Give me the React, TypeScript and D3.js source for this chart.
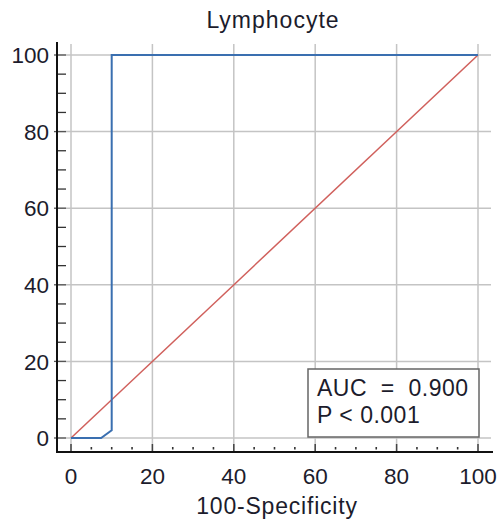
import React from "react";
import * as d3 from "d3";

const title = "Lymphocyte";
const xLabel = "100-Specificity";
const majorTicks = [0, 20, 40, 60, 80, 100];
const minorTicks = d3.range(0, 101, 5).filter((v) => v % 20 !== 0);
const rocFpr = [0, 7.4, 10, 10, 100];
const rocTpr = [0, 0, 2, 100, 100];
const diagX = [0, 100];
const diagY = [0, 100];
const legendLines = ["AUC  =  0.900", "P < 0.001"];

const W = 502;
const H = 522;
const FONT = "'Liberation Sans', Arial, sans-serif";
const TEXT = "#1c1c2c";

export default function App() {
  const x = d3.scaleLinear().domain([0, 100]).range([71, 478]);
  const y = d3.scaleLinear().domain([0, 100]).range([438, 55]);
  const axX = 57;
  const axY = 452;
  const top = 42;
  const right = 491;

  const roc = d3
    .line<number>()
    .x((_, i) => x(rocFpr[i]))
    .y((_, i) => y(rocTpr[i]))(rocFpr);
  const diag = d3
    .line<number>()
    .x((_, i) => x(diagX[i]))
    .y((_, i) => y(diagY[i]))(diagX);

  return (
    <svg
      width={W}
      height={H}
      style={{ position: "absolute", left: 0, top: 0, background: "#fff" }}
      fontFamily={FONT}
    >
      <rect width={W} height={H} fill="#fff" />
      {/* grid */}
      {majorTicks.map((t) => (
        <line key={"gx" + t} x1={x(t)} x2={x(t)} y1={top + 2} y2={axY} stroke="#c4c4c4" strokeWidth={1.5} />
      ))}
      {majorTicks.map((t) => (
        <line key={"gy" + t} x1={axX} x2={right} y1={y(t)} y2={y(t)} stroke="#c4c4c4" strokeWidth={1.5} />
      ))}
      {/* minor ticks */}
      {minorTicks.map((t) => (
        <line key={"my" + t} x1={axX} x2={axX + 9} y1={y(t)} y2={y(t)} stroke="#333" strokeWidth={1.3} />
      ))}
      {minorTicks.map((t) => (
        <line key={"mx" + t} x1={x(t)} x2={x(t)} y1={axY - 5} y2={axY - 2.5} stroke="#333" strokeWidth={1.6} />
      ))}
      {majorTicks.map((t) => (
        <line key={"Mx" + t} x1={x(t)} x2={x(t)} y1={axY - 8} y2={axY} stroke="#444" strokeWidth={1.5} />
      ))}
      {majorTicks.map((t) => (
        <line key={"My" + t} x1={axX - 3} x2={axX + 9} y1={y(t)} y2={y(t)} stroke="#555" strokeWidth={1.3} />
      ))}
      {/* axes */}
      <line x1={axX} x2={axX} y1={top} y2={axY + 1} stroke="#111" strokeWidth={2} />
      <line x1={axX - 1} x2={493} y1={axY} y2={axY} stroke="#111" strokeWidth={2} />
      {/* data */}
      <path d={diag ?? ""} fill="none" stroke="#d0605c" strokeWidth={1.5} />
      <path d={roc ?? ""} fill="none" stroke="#3a6fb0" strokeWidth={2} />
      {/* labels */}
      {majorTicks.map((t) => (
        <text key={"ly" + t} x={49} y={y(t)} dy="0.36em" textAnchor="end" fontSize={22.5} fill={TEXT}>
          {t}
        </text>
      ))}
      {majorTicks.map((t) => (
        <text key={"lx" + t} x={x(t)} y={484} textAnchor="middle" fontSize={22.5} fill={TEXT}>
          {t}
        </text>
      ))}
      <text x={273} y={28} textAnchor="middle" fontSize={23} letterSpacing={1} fill={TEXT}>
        {title}
      </text>
      <text x={277} y={514} textAnchor="middle" fontSize={23} letterSpacing={0.8} fill={TEXT}>
        {xLabel}
      </text>
      {/* legend */}
      <rect x={308} y={369} width={171} height={68} fill="#fff" stroke="#666" strokeWidth={1.5} />
      {legendLines.map((s, i) => (
        <text key={s} x={317} y={396 + i * 27} fontSize={23} letterSpacing={0.5} fill={TEXT} style={{ whiteSpace: "pre" }}>
          {s}
        </text>
      ))}
    </svg>
  );
}
